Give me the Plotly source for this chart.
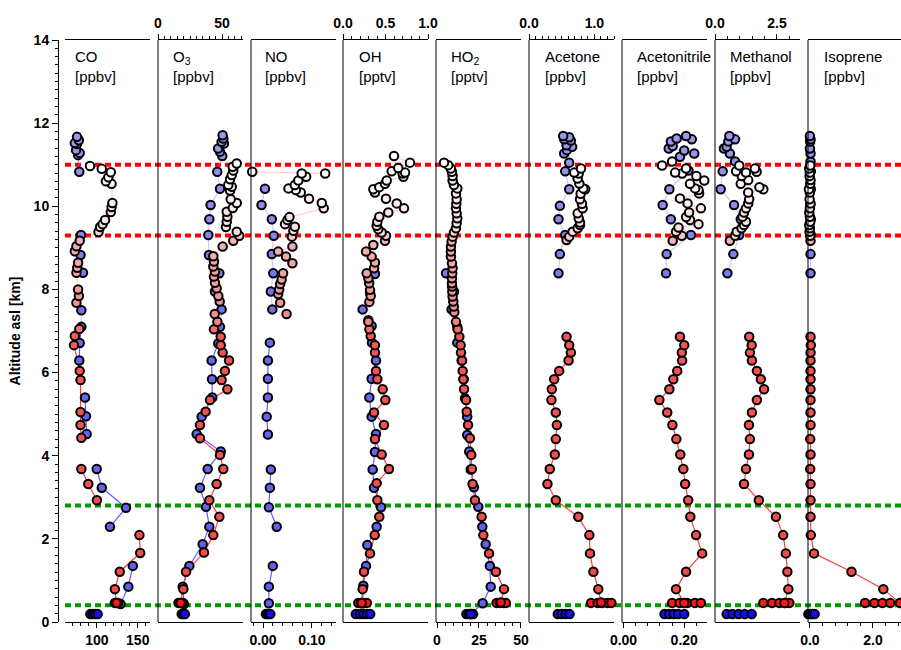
import plotly.graph_objects as go

# ---------------- data (altitude in km, mixing ratios) ----------------
RED_SFC_ALT = 0.46
BLUE_SFC_ALT = 0.19
RED_LEVELS = [9.3, 11.0]
GREEN_LEVELS = [0.4, 2.8]

CO_RED_ALT = [0.46, 0.79, 1.21, 1.66, 2.09, None, 2.93, 3.32, 3.68, None, 4.43, 4.74, 5.05, 5.82, 6.04, 6.66, 6.88, 7.05, None,
              7.68, 7.84, 8.0, 8.4, 8.52, 8.64, 8.92, 9.04, 9.17, 9.38, 9.5, 9.57, 9.67, 9.86, 9.98, 10.08, 10.54, 10.6, 10.7, 10.82, 10.9, 10.97]
CO_RED = [124, 122, 128, 153, 152, None, 100, 89.5, 81, None, 81, 80, 80, 80, 79, 72, 73, 78.5, None,
          75, 78, 77, 75, 76, 77, 73, 75, 79, 102, 104, 107, 110, 117, 118, 119, 118, 111, 114, 117, 106, 91.6]
CO_RED_SFC = [122, 124, 126]
CO_BLUE_ALT = [0.43, 0.85, 1.35, None, 2.29, 2.75, 3.23, 3.68, None, 4.52, 4.95, 5.4, None, 6.29, 6.71, 7.1, 7.5, None,
               8.4, 8.83, 9.31, None, 10.83, 11.23, 11.28, 11.35, 11.5, 11.52, 11.59, 11.67]
CO_BLUE = [129, 138.5, 144, None, 116, 135.6, 106, 99.8, None, 87.5, 86.7, 85.5, None, 78.5, 79, 81, 81, None,
           83, 80, 80.6, None, 78.5, 77, 79, 74.5, 75.7, 73, 78, 75.7]
CO_BLUE_SFC = [92, 95, 98, 101]

O3_RED_ALT = [0.46, 0.79, 1.21, 1.67, 2.09, 2.53, 2.93, 3.32, 3.68, 4.02, 4.42, 4.74, 5.06, 5.34, 5.6, 5.82, 6.04, 6.29, 6.48, 6.66,
              6.86, 7.04, 7.22, 7.41, 7.71, 7.84, 8.03, 8.16, 8.31, 8.43, 8.55, 8.67, 8.8, 9.03, 9.17, 9.29, 9.39, 9.5, 9.63, 9.75,
              9.87, 9.96, 10.08, 10.17, 10.38, 10.47, 10.51, 10.65, 10.75, 10.86, 10.95, 11.03]
O3_RED = [17.7, 19.8, 21.9, 35.9, 43.2, 47.9, 40.1, 45.8, 51, 48.4, 32.8, 32.8, 37.2, 40.6, 54.2, 49.7, 52.3, 55.5, 50.5, 49,
          49, 43.7, 46.4, 44.3, 48.2, 47.1, 45.8, 44.5, 43.7, 44.5, 43.2, 43.7, 43.2, 50.5, 58.8, 63.5, 61.5, 53.1, 53.7, 54.2,
          53.7, 58.4, 61.5, 56.8, 56.3, 57.6, 54.9, 56.3, 57.6, 58.8, 58.4, 61.5]
O3_RED_SFC = [16, 17.5, 19.5]
O3_BLUE_ALT = [0.43, 0.85, 1.35, 1.87, 2.29, 2.77, 3.23, 3.68, 4.1, 4.52, 4.94, 5.4, 5.84, 6.29, 6.7, 7.1, 7.52, 7.95, 8.39, 8.83,
               9.31, 9.69, 10.03, 10.42, 10.83, 11.21, 11.31, 11.39, 11.51, 11.55, 11.63, 11.71]
O3_BLUE = [20.3, 19.3, 24.5, 34.9, 40.1, 37.5, 32.8, 38.8, 49, 30.2, 34.1, 42.4, 42.2, 41.9, 47.1, 48.4, 49.7, 44.5, 47.9, 39.8,
           39.3, 40.1, 41.1, 48.4, 46.3, 50.2, 48.4, 47, 51.5, 49.7, 51, 50.5]
O3_BLUE_SFC = [18.5, 19.8, 21]

NO_RED_ALT = [7.41, 7.68, 7.89, 8.0, 8.13, 8.24, 8.39, 8.63, 8.79, 8.91, 9.03, 9.27, 9.41, 9.51, 9.57, 9.67, 9.74, 9.95, 10.08, 10.18,
              10.33, 10.39, 10.43, 10.51, 10.62, 10.71, 10.79, 10.79, 10.83]
NO_RED = [0.048, 0.035, 0.031, 0.033, 0.035, 0.038, 0.041, 0.06, 0.047, 0.031, 0.06, 0.059, 0.062, 0.065, 0.045, 0.05, 0.054, 0.124, 0.12, 0.094,
          0.077, 0.067, 0.052, 0.065, 0.072, 0.088, 0.079, 0.127, -0.022]
NO_RED_SFC = []
NO_BLUE_ALT = [0.45, 0.85, 1.35, None, 2.29, 2.76, 3.23, 3.67, None, 4.51, 4.94, 5.4, 5.85, 6.29, 6.72, None, 7.52, 7.95, 8.39, 8.85, 9.29, 9.69, 10.03, 10.42]
NO_BLUE = [0.012, 0.012, 0.02, None, 0.028, 0.012, 0.014, 0.016, None, 0.01, 0.0075, 0.01, 0.01, 0.01, 0.014, None, 0.019, 0.016, 0.021, 0.018, 0.022, 0.018, -0.003, 0.004]
NO_BLUE_SFC = [0.006, 0.009, 0.012, 0.015]

OH_RED_ALT = [0.46, 0.79, 1.21, 1.65, 2.09, 2.53, 2.93, 3.34, 3.68, 4.03, 4.4, 4.74, 5.04, 5.34, 5.6, 5.84, 6.04, 6.48, 6.66, 6.88,
              7.04, 7.22, 7.7, 7.84, 7.99, 8.15, 8.27, 8.39, 8.51, 8.65, 8.79, 8.91, 9.07, 9.17, 9.29, 9.37, 9.45, 9.53, 9.63, 9.75,
              9.85, 9.95, 10.07, 10.18, 10.33, 10.41, 10.46, 10.54, 10.62, 10.71, 10.79, 10.81, 10.84, 10.92, 11.05, 11.21]
OH_RED = [0.22, 0.231, 0.247, 0.318, 0.373, 0.427, 0.404, 0.396, 0.541, 0.455, 0.376, 0.482, 0.365, 0.498, 0.467, 0.404, 0.388, 0.376, 0.376, 0.326,
          0.31, 0.298, 0.31, 0.326, 0.318, 0.308, 0.298, 0.278, 0.365, 0.376, 0.337, 0.271, 0.357, 0.494, 0.506, 0.455, 0.415, 0.396, 0.404, 0.427,
          0.533, 0.718, 0.632, 0.506, 0.376, 0.357, 0.427, 0.494, 0.514, 0.71, 0.702, 0.73, 0.573, 0.65, 0.788, 0.6]
OH_RED_SFC = [0.18, 0.21, 0.25, 0.28]
OH_BLUE_ALT = [0.45, 0.87, 1.35, 1.85, 2.29, 2.76, 3.23, 3.67, 4.09, 4.52, 4.94, 5.4, 5.85, 6.29, 6.72, 7.12, 7.26, 7.52, 7.92, 8.37]
OH_BLUE = [0.23, 0.239, 0.271, 0.286, 0.396, 0.447, 0.365, 0.349, 0.376, 0.388, 0.337, 0.31, 0.337, 0.388, 0.341, 0.337, 0.298, 0.231, 0.318, 0.376]
OH_BLUE_SFC = [0.15, 0.2, 0.24, 0.28, 0.32]

HO2_RED_ALT = [0.47, 0.79, 1.21, 1.65, 2.09, 2.53, 2.93, 3.32, 3.68, 4.02, 4.42, 4.74, 5.06, 5.34, 5.6, 5.84, 6.04, 6.29, 6.48, 6.66,
               6.86, 7.04, 7.22, 7.45, 7.59, 7.71, 7.83, 7.95, 8.07, 8.15, 8.27, 8.39, 8.51, 8.63, 8.79, 8.91, 9.03, 9.15, 9.27, 9.37,
               9.47, 9.59, 9.71, 9.83, 9.95, 10.06, 10.17, 10.31, 10.43, 10.51, 10.62, 10.73, 10.83, 10.91, 10.99, 11.05]
HO2_RED = [38, 39.9, 35.1, 31, 27.6, 26.6, 22.6, 21.2, 20.8, 20.4, 19.6, 18.5, 17.7, 17.3, 16.1, 15.7, 15.3, 14.9, 14.3, 14.1,
           13.3, 12.3, 11.3, 10.3, 10.0, 9.7, 9.3, 9.1, 9.0, 8.9, 8.9, 9.1, 9.3, 8.9, 8.3, 8.3, 8.3, 8.7, 9.3, 10.1,
           11.3, 11.7, 12.1, 11.7, 11.3, 11.5, 11.7, 11.3, 12.1, 10.1, 9.3, 9.3, 8.9, 8.2, 6.7, 4.2]
HO2_RED_SFC = [35.5, 37.5, 39.5, 41]
HO2_BLUE_ALT = [0.19, 0.45, 0.85, 1.35, 1.87, 2.29, 2.77, 3.24, 3.67, 4.1, 4.5, 4.94, 5.38, 5.84, 6.29, 6.72, 7.1, 7.52, 7.95, 8.39]
HO2_BLUE = [20, 27.2, 32, 31.5, 29, 27, 24.6, 22, 20.1, 19.2, 18, 18, 16.7, 15.9, 14.7, 12.1, 12.1, 8.7, 10.1, 5.4]
HO2_BLUE_SFC = [17.5, 19, 20.5, 21.5]

ACE_RED_ALT = [0.47, 0.79, 1.21, 1.65, 2.09, 2.53, 2.93, 3.32, 3.68, 4.03, 4.4, 4.74, 5.04, 5.34, 5.6, 5.84, 6.04, 6.29, 6.48, 6.66, 6.86, None,
               9.19, 9.27, 9.39, 9.47, 9.55, 9.61, 9.71, 9.83, 9.95, 10.06, 10.17, 10.3, 10.41, 10.43, 10.55, 10.67, 10.79, 10.81, 10.91]
ACE_RED = [1.1, 1.06, 0.985, 0.933, 0.923, 0.754, 0.41, 0.282, 0.318, 0.395, 0.41, 0.426, 0.41, 0.343, 0.349, 0.385, 0.462, 0.605, 0.64, 0.615, 0.574, None,
           0.574, 0.615, 0.667, 0.744, 0.78, 0.78, 0.76, 0.744, 0.82, 0.81, 0.78, 0.79, 0.86, 0.83, 0.77, 0.744, 0.76, 0.692, 0.795]
ACE_RED_SFC = [0.95, 1.05, 1.12, 1.2, 1.26]
ACE_BLUE_ALT = [8.39, 8.85, 9.31, 9.69, 10.01, 10.41, 10.84, 11.05, 11.27, 11.35, 11.43, 11.47, 11.58, 11.61, 11.66, 11.69]
ACE_BLUE = [0.451, 0.472, 0.554, 0.451, 0.472, 0.615, 0.554, 0.615, 0.538, 0.58, 0.66, 0.574, 0.64, 0.538, 0.615, 0.523]
ACE_BLUE_SFC = [0.44, 0.5, 0.56, 0.62]

ACN_RED_ALT = [0.46, 0.79, 1.21, 1.65, 2.09, 2.53, 2.93, 3.32, 3.68, 4.03, 4.4, 4.74, 5.04, 5.34, 5.6, 5.84, 6.04, 6.29, 6.48, 6.66, 6.86, None,
               9.17, 9.29, 9.39, 9.49, 9.57, 9.67, 9.74, 9.85, 9.95, 10.07, 10.19, 10.31, 10.39, 10.43, 10.54, 10.62, 10.73, 10.79, 10.81, 10.91, 10.98, 11.08]
ACN_RED = [0.2, 0.173, 0.206, 0.259, 0.239, 0.22, 0.213, 0.203, 0.197, 0.187, 0.174, 0.161, 0.144, 0.118, 0.151, 0.164, 0.177, 0.193, 0.192, 0.2, 0.186, None,
           0.162, 0.192, 0.173, 0.181, 0.247, 0.219, 0.206, 0.216, 0.255, 0.211, 0.186, 0.249, 0.247, 0.236, 0.219, 0.266, 0.24, 0.193, 0.17, 0.206, 0.127, 0.16]
ACN_RED_SFC = [0.16, 0.185, 0.21, 0.235, 0.255]
ACN_BLUE_ALT = [8.39, 8.85, 9.31, 9.69, 10.03, 10.41, 10.86, 11.19, 11.27, 11.34, 11.39, 11.45, 11.56, 11.61, 11.63, 11.69]
ACN_BLUE = [0.14, 0.142, 0.222, 0.156, 0.129, 0.151, 0.214, 0.186, 0.233, 0.2, 0.149, 0.162, 0.156, 0.225, 0.175, 0.206]
ACN_BLUE_SFC = [0.135, 0.15, 0.165, 0.18, 0.2]

MEOH_RED_ALT = [0.46, 0.79, 1.21, 1.65, 2.09, 2.53, 2.93, 3.32, 3.68, 4.03, 4.4, 4.74, 5.04, 5.34, 5.6, 5.84, 6.04, 6.29, 6.48, 6.66, 6.86, None,
                9.17, 9.29, 9.39, 9.47, 9.55, 9.63, 9.75, 9.85, 9.95, 10.07, 10.17, 10.33, 10.41, 10.46, 10.54, 10.63, 10.73, 10.81, 10.83, 10.84, 10.91, 10.98]
MEOH_RED = [2.8, 2.96, 2.92, 2.86, 2.75, 2.46, 1.77, 1.17, 1.25, 1.37, 1.41, 1.37, 1.49, 1.69, 1.98, 1.85, 1.69, 1.49, 1.41, 1.48, 1.38, None,
            0.6, 0.81, 0.875, 1.07, 1.17, 1.25, 1.11, 1.17, 1.25, 1.34, 1.38, 1.34, 1.95, 1.79, 1.04, 1.34, 1.08, 1.25, 1.68, 0.85, 1.61, 0.98]
MEOH_RED_SFC = [1.95, 2.3, 2.6, 2.85, 3.0]
MEOH_BLUE_ALT = [8.39, 8.85, 9.31, 9.69, 10.03, 10.41, 10.84, 11.08, 11.27, 11.39, 11.43, 11.56, 11.61, 11.69]
MEOH_BLUE = [0.5, 0.74, 0.98, 1.04, 0.77, 0.23, 0.31, 0.81, 0.6, 0.36, 0.47, 0.54, 0.81, 0.58]
MEOH_BLUE_SFC = [0.47, 0.7, 0.95, 1.2, 1.48]

ISO_RED_ALT = [0.46, 0.79, 1.21, 1.65, 2.09, 2.53, 2.93, 3.32, 3.68, 4.03, 4.4, 4.74, 5.04, 5.34, 5.6, 5.84, 6.04, 6.29, 6.48, 6.66, 6.86, None,
               9.17, 9.29, 9.39, 9.47, 9.55, 9.63, 9.75, 9.85, 9.95, 10.07, 10.17, 10.33, 10.41, 10.54, 10.63, 10.73, 10.81, 10.91, 10.98]
ISO_RED = [2.86, 2.33, 1.32, 0.13, 0.03, 0.02, 0.02, 0.02, 0.01, 0.02, 0.01, 0.02, 0.02, 0.02, 0.02, 0.02, 0.02, 0.02, 0.02, 0.03, 0.02, None,
           0.02, 0.01, -0.01, 0.0, -0.02, 0.01, 0.0, -0.02, 0.0, 0.02, -0.01, 0.0, -0.03, 0.01, 0.02, -0.01, 0.0, -0.02, 0.01]
ISO_RED_SFC = [1.75, 2.05, 2.3, 2.55, 2.86]
ISO_BLUE_ALT = [8.39, 8.85, 9.31, 9.69, 10.03, 10.41, 10.84, 11.08, 11.27, 11.39, 11.56, 11.61, 11.69]
ISO_BLUE = [0.02, 0.02, 0.03, 0.03, 0.01, 0.03, 0.03, 0.02, 0.02, 0.0, 0.01, 0.02, 0.0]
ISO_BLUE_SFC = [-0.05, 0.02, 0.08, 0.15]

SPECIES = ["CO", "O<sub>3</sub>", "NO", "OH", "HO<sub>2</sub>", "Acetone", "Acetonitrile", "Methanol", "Isoprene"]
UNITS = ["[ppbv]", "[ppbv]", "[ppbv]", "[pptv]", "[pptv]", "[ppbv]", "[ppbv]", "[ppbv]", "[ppbv]"]

# ---------------- layout / styling ----------------
W, H = 901, 650
ML, MR, MT, MB = 58, 0, 40, 28
PW, PH = W - ML - MR, H - MT - MB
PANEL_LEFT = [65, 158, 251, 343, 436, 529, 622, 715, 808]
PANEL_W = [85, 85, 85, 85, 85, 85, 85, 85, 93]
LABEL_DX = [8, 13, 12, 14, 13, 14, 13, 13, 14]

panels = [
    dict(red=(CO_RED_ALT, CO_RED, CO_RED_SFC), blue=(CO_BLUE_ALT, CO_BLUE, CO_BLUE_SFC),
         rng=[61, 165], side="bottom", dtick=50, minor=10, fmt=""),
    dict(red=(O3_RED_ALT, O3_RED, O3_RED_SFC), blue=(O3_BLUE_ALT, O3_BLUE, O3_BLUE_SFC),
         rng=[0, 66.4], side="top", dtick=50, minor=5, fmt=""),
    dict(red=(NO_RED_ALT, NO_RED, NO_RED_SFC), blue=(NO_BLUE_ALT, NO_BLUE, NO_BLUE_SFC),
         rng=[-0.0245, 0.149], side="bottom", dtick=0.1, minor=0.02, fmt=".2f"),
    dict(red=(OH_RED_ALT, OH_RED, OH_RED_SFC), blue=(OH_BLUE_ALT, OH_BLUE, OH_BLUE_SFC),
         rng=[0, 1.0], side="top", dtick=0.5, minor=0.1, fmt=".1f"),
    dict(red=(HO2_RED_ALT, HO2_RED, HO2_RED_SFC), blue=(HO2_BLUE_ALT, HO2_BLUE, HO2_BLUE_SFC),
         rng=[-0.6, 50.05], side="bottom", dtick=25, minor=5, fmt=""),
    dict(red=(ACE_RED_ALT, ACE_RED, ACE_RED_SFC), blue=(ACE_BLUE_ALT, ACE_BLUE, ACE_BLUE_SFC),
         rng=[0, 1.3], side="top", dtick=1.0, minor=0.1, fmt=".1f"),
    dict(red=(ACN_RED_ALT, ACN_RED, ACN_RED_SFC), blue=(ACN_BLUE_ALT, ACN_BLUE, ACN_BLUE_SFC),
         rng=[-0.005, 0.275], side="bottom", dtick=0.2, minor=0.04, fmt=".2f"),
    dict(red=(MEOH_RED_ALT, MEOH_RED, MEOH_RED_SFC), blue=(MEOH_BLUE_ALT, MEOH_BLUE, MEOH_BLUE_SFC),
         rng=[0, 3.43], side="top", dtick=2.5, minor=0.5, fmt=".1f"),
    dict(red=(ISO_RED_ALT, ISO_RED, ISO_RED_SFC), blue=(ISO_BLUE_ALT, ISO_BLUE, ISO_BLUE_SFC),
         rng=[-0.06, 2.89], side="bottom", dtick=2.0, minor=0.4, fmt=".1f"),
]

RED_CS = [[0, "rgb(255,0,0)"], [0.036, "rgb(255,25,25)"], [0.05, "rgb(246,72,72)"], [0.49, "rgb(245,85,85)"],
          [0.52, "rgb(240,140,140)"], [0.655, "rgb(242,178,178)"], [0.67, "rgb(250,220,220)"],
          [0.78, "rgb(255,255,255)"], [1, "rgb(255,255,255)"]]
BLUE_CS = [[0, "rgb(0,0,255)"], [0.018, "rgb(20,20,250)"], [0.03, "rgb(95,95,240)"], [0.5, "rgb(105,105,235)"],
           [0.68, "rgb(135,135,235)"], [1, "rgb(170,170,242)"]]
STYLE = {
    "red": dict(cs=RED_CS, strong="rgb(255,60,60)", pale="rgba(255,120,120,0.35)", sfc_alt=RED_SFC_ALT),
    "blue": dict(cs=BLUE_CS, strong="rgb(95,95,255)", pale="rgba(120,120,255,0.4)", sfc_alt=BLUE_SFC_ALT),
}
FONT = "Liberation Sans, Arial, sans-serif"


def masked(alts, vals, keep):
    return [v if (a is not None and v is not None and keep(a)) else None for a, v in zip(alts, vals)]


fig = go.Figure()
layout_axes = {}
shapes = []
annotations = []

for i, p in enumerate(panels):
    xname = "x" if i == 0 else f"x{i + 1}"
    axkey = "xaxis" if i == 0 else f"xaxis{i + 1}"
    d0 = (PANEL_LEFT[i] - ML) / PW
    d1 = min(1.0, (PANEL_LEFT[i] + PANEL_W[i] - ML) / PW)

    for key in ("blue", "red"):
        alts, vals, sfc = p[key]
        st = STYLE[key]
        fig.add_trace(go.Scatter(x=masked(alts, vals, lambda a: a >= 6.8), y=alts, mode="lines",
                                 line=dict(color=st["pale"], width=1.2), xaxis=xname, yaxis="y",
                                 hoverinfo="skip", showlegend=False, cliponaxis=False))
        fig.add_trace(go.Scatter(x=masked(alts, vals, lambda a: a <= 7.3), y=alts, mode="lines",
                                 line=dict(color=st["strong"], width=1.2), xaxis=xname, yaxis="y",
                                 hoverinfo="skip", showlegend=False, cliponaxis=False))
    for key in ("blue", "red"):
        alts, vals, sfc = p[key]
        st = STYLE[key]
        pa = [a for a, v in zip(alts, vals) if a is not None and v is not None]
        pv = [v for a, v in zip(alts, vals) if a is not None and v is not None]
        sa = [st["sfc_alt"]] * len(sfc)
        allx = list(sfc) + pv
        ally = sa + pa
        fig.add_trace(go.Scatter(x=allx, y=ally, mode="markers", xaxis=xname, yaxis="y",
                                 marker=dict(size=8.5, color=ally, colorscale=st["cs"], cmin=0, cmax=14,
                                             showscale=False, line=dict(color="black", width=2)),
                                 showlegend=False, cliponaxis=False))

    layout_axes[axkey] = dict(
        domain=[d0, d1], range=p["rng"], anchor="y", side=p["side"], automargin=False,
        showline=True, linecolor="black", linewidth=1, mirror=True,
        ticks="outside", ticklen=5, tickwidth=1, tickcolor="black",
        tick0=0, dtick=p["dtick"], tickformat=p["fmt"],
        minor=dict(tick0=0, dtick=p["minor"], ticks="outside", ticklen=3, tickwidth=1, tickcolor="black"),
        tickfont=dict(family=FONT, size=14, color="black", weight="bold"),
        showgrid=False, zeroline=False, fixedrange=True,
    )
    if i > 0:
        shapes.append(dict(type="line", xref="paper", yref="y", x0=d0, x1=d0, y0=0, y1=14,
                           line=dict(color="black", width=1), layer="above"))
    annotations.append(dict(text=f"{SPECIES[i]}<br>{UNITS[i]}", xref="paper", yref="paper",
                            x=(PANEL_LEFT[i] + LABEL_DX[i] - ML) / PW, y=1 - 6 / PH,
                            xanchor="left", yanchor="top", align="left", showarrow=False,
                            font=dict(family=FONT, size=15, color="black")))

x_start = (PANEL_LEFT[0] - ML) / PW
for lv in RED_LEVELS:
    shapes.append(dict(type="line", xref="paper", yref="y", x0=x_start, x1=1, y0=lv, y1=lv,
                       line=dict(color="rgb(255,0,0)", width=4, dash="6px,4px"), layer="below"))
for lv in GREEN_LEVELS:
    shapes.append(dict(type="line", xref="paper", yref="y", x0=x_start, x1=1, y0=lv, y1=lv,
                       line=dict(color="rgb(0,153,0)", width=4, dash="6px,4px"), layer="below"))

fig.update_layout(
    template="none",
    width=W, height=H, margin=dict(l=ML, r=MR, t=MT, b=MB, autoexpand=False),
    paper_bgcolor="white", plot_bgcolor="rgba(0,0,0,0)", showlegend=False,
    font=dict(family=FONT, color="black"),
    yaxis=dict(domain=[0, 1], range=[0, 14], anchor="free", position=0, automargin=False,
               showline=True, linecolor="black", linewidth=1,
               ticks="outside", ticklen=6, tickwidth=1, tickcolor="black", tick0=0, dtick=2,
               minor=dict(tick0=0, dtick=0.2, ticks="outside", ticklen=3, tickwidth=1, tickcolor="black"),
               tickfont=dict(family=FONT, size=14, color="black", weight="bold"),
               title=dict(text="Altitude asl [km]", standoff=8,
                          font=dict(family=FONT, size=14, color="black", weight="bold")),
               showgrid=False, zeroline=False, fixedrange=True),
    shapes=shapes, annotations=annotations,
    **layout_axes,
)

fig.write_html("out.html", config={"displayModeBar": False},
               post_script="document.body.style.margin='0';document.body.style.padding='0';document.body.style.overflow='hidden';")
